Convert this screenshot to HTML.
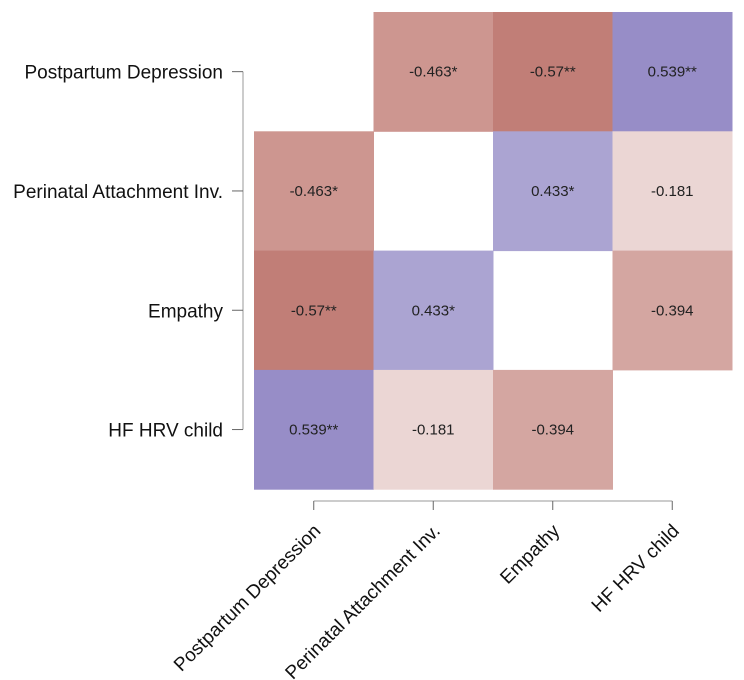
<!DOCTYPE html>
<html><head><meta charset="utf-8"><style>
html,body{margin:0;padding:0;background:#fff;}
svg{display:block;font-family:"Liberation Sans",sans-serif;}
</style></head><body>
<svg id="chart" width="744" height="680"></svg>
<script>
const variables = ["Postpartum Depression","Perinatal Attachment Inv.","Empathy","HF HRV child"];
const corrValues = [
 [null,-0.463,-0.57,0.539],
 [-0.463,null,0.433,-0.181],
 [-0.57,0.433,null,-0.394],
 [0.539,-0.181,-0.394,null]];
const corrLabels = [
 ["","-0.463*","-0.57**","0.539**"],
 ["-0.463*","","0.433*","-0.181"],
 ["-0.57**","0.433*","","-0.394"],
 ["0.539**","-0.181","-0.394",""]];
const NS="http://www.w3.org/2000/svg";
const svg=document.getElementById('chart');
const x0=254,y0=12,cw=119.5,ch=119.3;
const xPos=i=>x0+i*cw, yPos=i=>y0+i*ch;
function color(v){
  const t=Math.min(1,Math.abs(v));
  if(v<0){return `rgb(${Math.round(255-108.8*t)},${Math.round(255-226*t)},${Math.round(255-239*t)})`;}
  return `rgb(${Math.round(255-193*t)},${Math.round(255-211*t)},${Math.round(255-104*t)})`;
}
function mk(tag,attrs){const e=document.createElementNS(NS,tag);for(const k in attrs)e.setAttribute(k,attrs[k]);svg.appendChild(e);return e;}
for(let r=0;r<4;r++)for(let c=0;c<4;c++){
  const v=corrValues[r][c]; if(v===null)continue;
  const rc=mk('rect',{x:xPos(c),y:yPos(r),width:cw+0.5,height:ch+0.5,fill:color(v)});
  
  
  const t=mk('text',{x:xPos(c)+cw/2,y:yPos(r)+ch/2+5,'text-anchor':'middle','font-size':15,fill:'#222'});
  t.textContent=corrLabels[r][c];
  
  
}
// y axis
const yl=mk('line',{x1:243,y1:yPos(0)+ch/2,x2:243,y2:yPos(3)+ch/2,stroke:'#999','stroke-width':1});


for(let i=0;i<4;i++){
  const cy=yPos(i)+ch/2;
  mk('line',{x1:232,y1:cy,x2:243,y2:cy,stroke:'#666','stroke-width':1});
  const t=mk('text',{x:223,y:cy+7,'text-anchor':'end','font-size':19,fill:'#111'});
  t.textContent=variables[i];
  
  
}
// x axis
const xl=mk('line',{x1:xPos(0)+cw/2,y1:501,x2:xPos(3)+cw/2,y2:501,stroke:'#999','stroke-width':1});


for(let i=0;i<4;i++){
  const cx=xPos(i)+cw/2;
  mk('line',{x1:cx,y1:501,x2:cx,y2:510,stroke:'#666','stroke-width':1});
  const ax=cx+8, ay=532;
  const t=mk('text',{x:ax,y:ay,'text-anchor':'end','font-size':19,fill:'#111',transform:`rotate(-45 ${ax} ${ay})`});
  t.textContent=variables[i];
  
  
}
</script>
</body></html>
